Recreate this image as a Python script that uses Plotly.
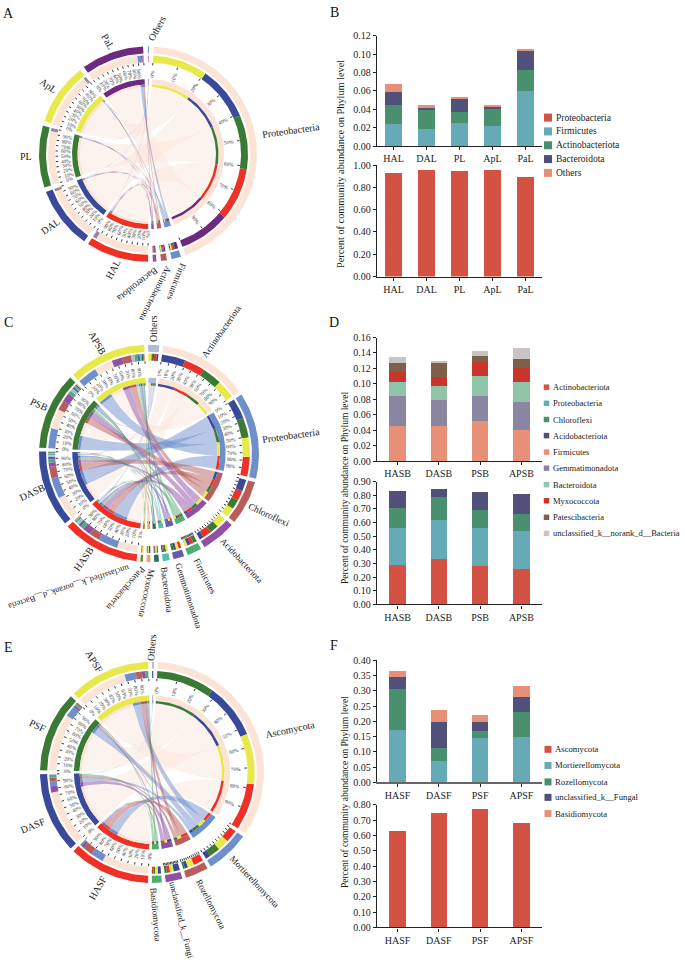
import math
import plotly.graph_objects as go

W, H = 685, 966
FONT = "Liberation Serif"

# ---------- panel A / B data ----------
A_samples = ["HAL", "DAL", "PL", "ApL", "PaL"]
A_proteobacteria = [0.930, 0.955, 0.945, 0.956, 0.893]
A_firmicutes = [0.024, 0.019, 0.0255, 0.022, 0.060]
A_actinobacteriota = [0.021, 0.020, 0.012, 0.018, 0.0225]
A_bacteroidota = [0.014, 0.003, 0.0145, 0.0035, 0.0205]
A_others = [0.009, 0.003, 0.0015, 0.001, 0.0025]

# ---------- panel C / D data ----------
C_samples = ["HASB", "DASB", "PSB", "APSB"]
C_actinobacteriota = [0.29, 0.33, 0.28, 0.26]
C_proteobacteria = [0.274, 0.29, 0.281, 0.275]
C_chloroflexi = [0.145, 0.165, 0.135, 0.13]
C_acidobacteriota = [0.12, 0.06, 0.125, 0.145]
C_firmicutes = [0.046, 0.045, 0.052, 0.041]
C_gemmatimonadota = [0.038, 0.034, 0.033, 0.035]
C_bacteroidota = [0.019, 0.018, 0.025, 0.027]
C_myxococcota = [0.013, 0.012, 0.018, 0.017]
C_patescibacteria = [0.011, 0.018, 0.008, 0.012]
C_unclassified = [0.008, 0.003, 0.006, 0.014]
C_others = [0.035, 0.025, 0.038, 0.044]

# ---------- panel E / F data ----------
E_samples = ["HASF", "DASF", "PSF", "APSF"]
E_ascomycota = [0.63, 0.75, 0.775, 0.68]
E_mortierellomycota = [0.172, 0.07, 0.144, 0.15]
E_rozellomycota = [0.133, 0.044, 0.023, 0.082]
E_unclassified = [0.042, 0.083, 0.031, 0.048]
E_basidiomycota = [0.020, 0.041, 0.024, 0.036]
E_others = [0.003, 0.012, 0.003, 0.004]

# ---------- colours ----------
SAMPLE_COL = ["#EE3124", "#3A4A9A", "#3B7A34", "#E9E84A", "#6E2A7E"]
PEACH, BLUE, ROSE, VIOLET = "#FBE3D6", "#6F8FCB", "#B85C5C", "#9050A5"
BAR_RED, BAR_TEAL, BAR_GREEN, BAR_NAVY, BAR_SALMON = "#D35243", "#66A9B7", "#49906F", "#50507A", "#E88F78"
BAR_GEM, BAR_BAC, BAR_MYX, BAR_PAT, BAR_UNC = "#8A85A0", "#8FC4A8", "#C9342B", "#7D604A", "#C9C3C3"

fig = go.Figure()
annotations = []
OV = dict(xaxis="x7", yaxis="y7")


def text(x, y, s, size=10, angle=0, anchor="center", color="#1a1a1a"):
    annotations.append(dict(x=x, y=y, xref="x7", yref="y7", text=s, showarrow=False, textangle=angle,
                            xanchor=anchor, yanchor="middle", font=dict(family=FONT, size=size, color=color)))


def hex_rgba(c, a):
    c = c.lstrip("#")
    return "rgba(%d,%d,%d,%.2f)" % (int(c[:2], 16), int(c[2:4], 16), int(c[4:], 16), a)


def chord_panel(cx, cy, R, start, gap, names, cols, matrix, samples, labels):
    """names/cols: phyla in order, last one is Others; matrix[phylum][sample]."""
    k = R / 109.0
    r_out = (109 * k, 102 * k)
    r_mid = (100 * k, 93 * k)
    r_in = (76 * k, 70.5 * k)
    r_strip = (70.5 * k, 68 * k)
    rc = 68 * k

    def pt(a, r):
        t = math.radians(a)
        return cx + r * math.sin(t), cy - r * math.cos(t)

    def arc(a0, a1, r):
        n = max(2, int(abs(a1 - a0) / 1.5) + 2)
        return [pt(a0 + (a1 - a0) * i / (n - 1), r) for i in range(n)]

    def poly(points, fill):
        fig.add_trace(go.Scatter(x=[p[0] for p in points] + [points[0][0]], y=[p[1] for p in points] + [points[0][1]],
                                 mode="lines", fill="toself", fillcolor=fill, line=dict(width=0),
                                 hoverinfo="skip", showlegend=False, **OV))

    def ring(a0, a1, rr, fill):
        poly(arc(a0, a1, rr[0]) + arc(a1, a0, rr[1]), fill)

    def bez(p0, p2):
        out = []
        for i in range(1, 30):
            t = i / 30
            out.append(((1 - t) ** 2 * p0[0] + 2 * t * (1 - t) * cx + t * t * p2[0],
                        (1 - t) ** 2 * p0[1] + 2 * t * (1 - t) * cy + t * t * p2[1]))
        return out

    ns, np_ = len(samples), len(names)
    tot_p = [sum(matrix[j]) for j in range(np_)]
    tot_s = [sum(matrix[j][i] for j in range(np_)) for i in range(ns)]
    unit = (360 - gap * (np_ + ns)) / sum(tot_p + tot_s)

    # sector order: phyla without Others, samples, Others
    sectors = [("p", j) for j in range(np_ - 1)] + [("s", i) for i in range(ns)] + [("p", np_ - 1)]
    pos = {}
    a = start
    for s in sectors:
        size = (tot_p[s[1]] if s[0] == "p" else tot_s[s[1]]) * unit
        pos[s] = (a, a + size)
        a += size + gap

    seg_p, seg_s = {}, {}
    for j in range(np_):
        a = pos[("p", j)][0]
        for i in sorted(range(ns), key=lambda q: -matrix[j][q]):
            seg_p[(j, i)] = (a, a + matrix[j][i] * unit)
            a += matrix[j][i] * unit
    for i in range(ns):
        a = pos[("s", i)][0]
        for j in sorted(range(np_), key=lambda q: -matrix[q][i]):
            seg_s[(j, i)] = (a, a + matrix[j][i] * unit)
            a += matrix[j][i] * unit

    # ribbons
    for j in range(np_):
        alpha = 0.42 if cols[j] == PEACH else 0.5
        for i in range(ns):
            a0, a1 = seg_p[(j, i)]
            b0, b1 = seg_s[(j, i)]
            pts = arc(a0, a1, rc) + bez(pt(a1, rc), pt(b0, rc)) + arc(b0, b1, rc) + bez(pt(b1, rc), pt(a0, rc))
            poly(pts, hex_rgba(cols[j], alpha))

    # rings
    for j in range(np_):
        a0, a1 = pos[("p", j)]
        ring(a0, a1, r_out, cols[j])
        ring(a0, a1, r_in, cols[j])
        for i in range(ns):
            s0, s1 = seg_p[(j, i)]
            ring(s0, s1, r_mid, SAMPLE_COL[i])
            ring(s0, s1, r_strip, SAMPLE_COL[i])
    for i in range(ns):
        a0, a1 = pos[("s", i)]
        ring(a0, a1, r_out, SAMPLE_COL[i])
        ring(a0, a1, r_in, SAMPLE_COL[i])
        for j in range(np_):
            s0, s1 = seg_s[(j, i)]
            ring(s0, s1, r_mid, cols[j])
            ring(s0, s1, r_strip, cols[j])

    # ticks and percent labels
    tx, ty = [], []
    for s, (a0, a1) in pos.items():
        span = a1 - a0
        if span < 6:
            continue
        for q in range(0, 11):
            ang = a0 + span * q / 10
            p, e = pt(ang, 92.5 * k), pt(ang, 90 * k)
            tx += [p[0], e[0], None]
            ty += [p[1], e[1], None]
            if span > 30 and q < 10:
                lp = pt(ang, 82 * k)
                rot = ang - 90 if ang < 180 else ang - 270
                text(lp[0], lp[1], "%d%%" % (q * 10), size=5.2, angle=rot, color="#333333")
    fig.add_trace(go.Scatter(x=tx, y=ty, mode="lines", line=dict(color="#222222", width=0.9),
                             hoverinfo="skip", showlegend=False, **OV))

    for (lx, ly, s, ang, sz) in labels:
        text(lx, ly, s, size=sz, angle=ang)


# ---------- chord diagrams ----------
chord_panel(148, 150, 109, 3, 2.5, ["Proteobacteria", "Firmicutes", "Actinobacteriota", "Bacteroidota", "Others"],
            [PEACH, BLUE, ROSE, VIOLET, BLUE],
            [A_proteobacteria, A_firmicutes, A_actinobacteriota, A_bacteroidota, A_others], A_samples,
            [(291, 126, "Proteobacteria", -8, 10), (177, 279, "Firmicutes", 111, 9), (155, 291, "Actinobacteriota", 117, 9),
             (138, 282, "Bacteroidota", 142, 9.5), (157, 23, "Others", -62, 10), (113, 267, "HAL", -62, 10),
             (50, 223, "DAL", -35, 10), (26, 152, "PL", 0, 10), (48, 81, "ApL", 35, 10), (108, 36, "PaL", 60, 10)])

chord_panel(149, 453, 110, 7.4, 2,
            ["Actinobacteriota", "Proteobacteria", "Chloroflexi", "Acidobacteriota", "Firmicutes", "Gemmatimonadota",
             "Bacteroidota", "Myxococcota", "Patescibacteria", "unclassified_k__norank_d__Bacteria", "Others"],
            [PEACH, BLUE, ROSE, VIOLET, "#4FAE72", "#6A5AAE", "#5ABDB0", "#2D6A60", "#F0A070", "#6B8B2A", "#AEBBD8"],
            [C_actinobacteriota, C_proteobacteria, C_chloroflexi, C_acidobacteriota, C_firmicutes, C_gemmatimonadota,
             C_bacteroidota, C_myxococcota, C_patescibacteria, C_unclassified, C_others], C_samples,
            [(221, 330, "Actinobacteriota", -55, 9.2), (291, 435, "Proteobacteria", -8, 10), (269, 515, "Chloroflexi", 25, 9.5),
             (241, 561, "Acidobacteriota", 47, 9), (205, 577, "Firmicutes", 63, 9), (189, 597, "Gemmatimonadota", 72, 8.9),
             (167, 591, "Bacteroidota", 83, 9), (147, 594, "Myxococcota", 102, 9), (126, 590, "Patescibacteria", 131, 9),
             (69, 589, "unclassified_k__norank_d__Bacteria", 162, 8.5), (154, 327, "Others", -90, 10), (83, 560, "HASB", -55, 10),
             (32, 493, "DASB", -25, 10), (39, 404, "PSB", 25, 10), (97, 341, "APSB", 60, 10)])

chord_panel(152, 776, 112, 3, 2,
            ["Ascomycota", "Mortierellomycota", "Rozellomycota", "unclassified_k__Fungi", "Basidiomycota", "Others"],
            [PEACH, BLUE, ROSE, VIOLET, "#4FAE72", "#AEBBD8"],
            [E_ascomycota, E_mortierellomycota, E_rozellomycota, E_unclassified, E_basidiomycota, E_others], E_samples,
            [(290, 733, "Ascomycota", -12, 10), (254, 886, "Mortierellomycota", 47, 9), (211, 909, "Rozellomycota", 63, 9),
             (182, 925, "unclassified_k__Fungi", 76, 8.6), (156, 920, "Basidiomycota", 85, 9), (152, 650, "Others", -85, 10),
             (98, 893, "HASF", -60, 10), (33, 830, "DASF", -22, 10), (37, 729, "PSF", 25, 10), (94, 664, "APSF", 58, 10)])

# ---------- bar panels ----------
layout_axes = {}
axis_no = 1


def bar_panel(cats, series, y_top, y_zero, ymax, dtick, width, xline="#222222", xwidth=1.3):
    global axis_no
    n = axis_no
    axis_no += 1
    xa, ya = ("x" if n == 1 else "x%d" % n), ("y" if n == 1 else "y%d" % n)
    for vals, col in series:
        fig.add_trace(go.Bar(x=cats, y=vals, marker=dict(color=col, line=dict(width=0)), width=width,
                             hoverinfo="skip", showlegend=False, xaxis=xa, yaxis=ya))
    font = dict(family=FONT, size=10, color="#222222")
    layout_axes["xaxis" if n == 1 else "xaxis%d" % n] = dict(
        domain=[377 / W, 542 / W], anchor=ya, showgrid=False, zeroline=False, showline=True, linecolor=xline,
        linewidth=xwidth, ticks="outside", ticklen=3, tickcolor="#222222", tickfont=font, type="category",
        range=[-0.5, len(cats) - 0.5])
    layout_axes["yaxis" if n == 1 else "yaxis%d" % n] = dict(
        domain=[1 - y_zero / H, 1 - y_top / H], anchor=xa, range=[0, ymax], dtick=dtick, tickformat=".2f",
        showgrid=False, zeroline=False, showline=True, linecolor="#222222", linewidth=1.3, ticks="outside",
        ticklen=3, tickcolor="#222222", tickfont=font)


bar_panel(A_samples, [(A_firmicutes, BAR_TEAL), (A_actinobacteriota, BAR_GREEN), (A_bacteroidota, BAR_NAVY),
                      (A_others, BAR_SALMON)], 30, 142, 0.12, 0.02, 0.5)
bar_panel(A_samples, [(A_proteobacteria, BAR_RED)], 161, 274, 1.0, 0.2, 0.5)
bar_panel(C_samples, [(C_firmicutes, BAR_SALMON), (C_gemmatimonadota, BAR_GEM), (C_bacteroidota, BAR_BAC),
                      (C_myxococcota, BAR_MYX), (C_patescibacteria, BAR_PAT), (C_unclassified, BAR_UNC)],
          335.7, 461, 0.16, 0.02, 0.405)
bar_panel(C_samples, [(C_actinobacteriota, BAR_RED), (C_proteobacteria, BAR_TEAL), (C_chloroflexi, BAR_GREEN),
                      (C_acidobacteriota, BAR_NAVY)], 481.7, 606, 0.90, 0.10, 0.405)
bar_panel(E_samples, [(E_mortierellomycota, BAR_TEAL), (E_rozellomycota, BAR_GREEN), (E_unclassified, BAR_NAVY),
                      (E_basidiomycota, BAR_SALMON)], 662.7, 786, 0.40, 0.05, 0.405, xline="#666666", xwidth=2)
bar_panel(E_samples, [(E_ascomycota, BAR_RED)], 809, 933, 0.80, 0.10, 0.405)

YT = "Percent of community abundance on Phylum level"
text(340, 160, YT, size=10.3, angle=-90)
text(345, 488, YT, size=9.5, angle=-90)
text(345, 796, YT, size=9.5, angle=-90)


def legend(names, cols, x, xt, ys, msize, fsize):
    fig.add_trace(go.Scatter(x=[x] * len(names), y=ys, mode="markers",
                             marker=dict(symbol="square", size=msize, color=cols, line=dict(width=0)),
                             hoverinfo="skip", showlegend=False, **OV))
    for n, y in zip(names, ys):
        text(xt, y, n, size=fsize, anchor="left")


legend(["Proteobacteria", "Firmicutes", "Actinobacteriota", "Bacteroidota", "Others"],
       [BAR_RED, BAR_TEAL, BAR_GREEN, BAR_NAVY, BAR_SALMON], 548, 554, [113, 127, 141, 155, 169], 8, 9.5)
legend(["Actinobacteriota", "Proteobacteria", "Chloroflexi", "Acidobacteriota", "Firmicutes", "Gemmatimonadota",
        "Bacteroidota", "Myxococcota", "Patescibacteria", "unclassified_k__norank_d__Bacteria"],
       [BAR_RED, BAR_TEAL, BAR_GREEN, BAR_NAVY, BAR_SALMON, BAR_GEM, BAR_BAC, BAR_MYX, BAR_PAT, BAR_UNC],
       546.5, 550.5, [386, 402.3, 418.7, 435, 451.7, 468, 484.7, 501, 517.7, 534], 5.5, 8.5)
legend(["Ascomycota", "Mortierellomycota", "Rozellomycota", "unclassified_k__Fungal", "Basidiomycota"],
       [BAR_RED, BAR_TEAL, BAR_GREEN, BAR_NAVY, BAR_SALMON], 548, 553, [752.7, 769, 785.7, 801.3, 817.7], 7, 8.7)

for s, x, y in [("A", 8, 8), ("B", 334, 7), ("C", 8, 320), ("D", 334, 320), ("E", 8, 650), ("F", 334, 648)]:
    text(x, y, s, size=14, color="#111111")

fig.update_layout(
    width=W, height=H, margin=dict(l=0, r=0, t=0, b=0), paper_bgcolor="white", plot_bgcolor="rgba(0,0,0,0)",
    showlegend=False, barmode="stack", annotations=annotations, font=dict(family=FONT),
    xaxis7=dict(domain=[0, 1], range=[0, W], visible=False, fixedrange=True),
    yaxis7=dict(domain=[0, 1], range=[H, 0], visible=False, fixedrange=True, anchor="x7"),
    **layout_axes)
fig.write_html("out.html", config=dict(displayModeBar=False),
               post_script="document.body.style.margin='0';document.documentElement.style.overflow='hidden';")
